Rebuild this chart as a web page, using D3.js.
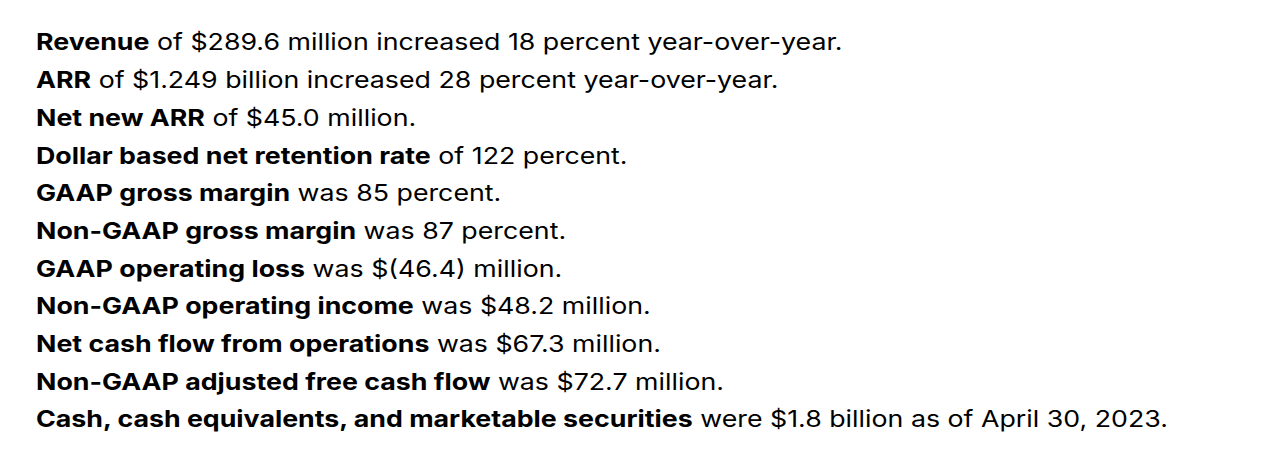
<!DOCTYPE html>
<html><head><meta charset="utf-8">
<script src="https://cdn.jsdelivr.net/npm/d3@7"></script>
<style>html,body{margin:0;padding:0;background:#fff;}</style>
</head><body>
<script>
const labels = ["Revenue","ARR","Net new ARR","Dollar based net retention rate","GAAP gross margin","Non-GAAP gross margin","GAAP operating loss","Non-GAAP operating income","Net cash flow from operations","Non-GAAP adjusted free cash flow","Cash, cash equivalents, and marketable securities"];
const details = [" of $289.6 million increased 18 percent year-over-year."," of $1.249 billion increased 28 percent year-over-year."," of $45.0 million."," of 122 percent."," was 85 percent."," was 87 percent."," was $(46.4) million."," was $48.2 million."," was $67.3 million."," was $72.7 million."," were $1.8 billion as of April 30, 2023."];

const W = 1262, H = 455;
const svg = d3.select("body").append("svg").attr("width", W).attr("height", H);
const y = d3.scalePoint().domain(d3.range(labels.length)).range([50.5, 427.5]);
const g = svg.append("g").attr("transform", "translate(36,0) scale(1.164,1)");
const t = g.selectAll("text.line").data(labels).join("text")
  .attr("class","line")
  .attr("x", 0).attr("y", (d,i) => y(i))
  .attr("font-family","Inter, sans-serif").attr("font-size", 23).attr("fill","#000");
t.append("tspan").attr("font-weight",700).text(d => d);
t.append("tspan").attr("font-weight",400).text((d,i) => details[i]);
</script>
</body></html>
